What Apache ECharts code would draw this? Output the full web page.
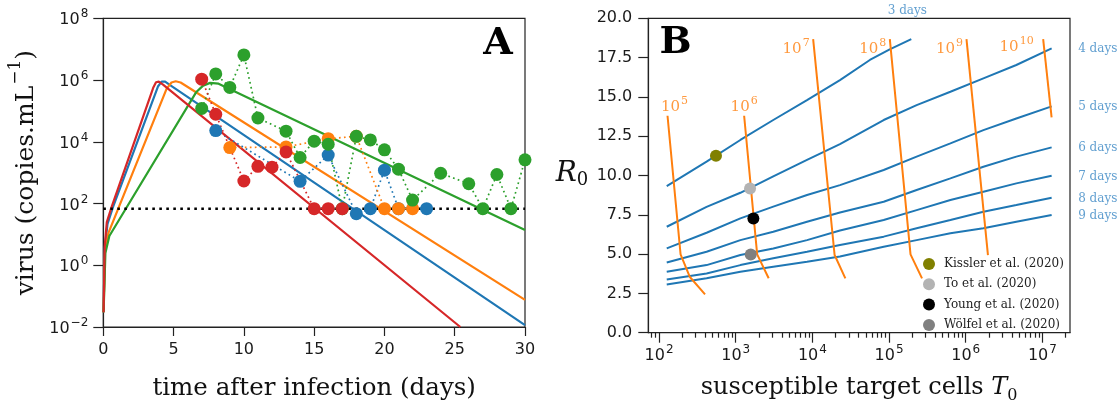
<!DOCTYPE html>
<html>
<head>
<meta charset="utf-8">
<script src="https://cdn.jsdelivr.net/npm/echarts@6.0.0/dist/echarts.min.js"></script>
<style>
html,body{margin:0;padding:0;background:#fff;}
#chart{width:1119px;height:409px;}
</style>
</head>
<body>
<div id="chart"></div>
<script>
// ================= Panel A : viral load =================
const detectionLimit = 68;
const blueDays   = [8,14,16,18,19,20,21,23];
const blueLoad   = [2.3e4,525,3.7e3,47,68,1.2e3,68,68];
const orangeDays = [9,13,16,18,20,21,22];
const orangeLoad = [6.5e3,6.8e3,1.26e4,1.5e4,68,68,68];
const greenDays  = [7,8,9,10,11,13,14,15,16,17,18,19,20,21,22,24,26,27,28,29,30];
const greenLoad  = [1.2e5,1.58e6,5.75e5,6.5e6,5.9e4,2.2e4,3.1e3,1.05e4,8.3e3,68,1.5e4,1.15e4,5.5e3,1.3e3,129,955,437,68,870,68,2.6e3];
const redDays    = [7,8,10,11,12,13,15,16,17];
const redLoad    = [1.07e6,7.8e4,537,1.6e3,1.5e3,4.7e3,68,68,68];

// model fits
const fitBlueDays   = [0.02,0.1,0.3,0.7,3.9,4.15,4.4,4.7,30];
const fitBlueLoad   = [0.03,3.5,22,79,6.3e5,8.9e5,8.9e5,7.1e5,0.0115];
const fitOrangeDays = [0.02,0.12,0.36,4.5,4.85,5.15,5.5,30];
const fitOrangeLoad = [0.03,3,11,5.2e5,8.3e5,9.1e5,8.3e5,0.076];
const fitGreenDays  = [0.02,0.15,0.43,6.6,7.1,7.6,8.2,30];
const fitGreenLoad  = [0.03,2.5,8.9,4e5,6.6e5,8.1e5,7.6e5,13.8];
const fitRedDays    = [0.02,0.1,0.25,0.6,3.55,3.75,3.95,4.25,25.4];
const fitRedLoad    = [0.03,4,25,79,5.6e5,8.5e5,8.9e5,7.1e5,0.01];
const aYTickExps = [-2,0,2,4,6,8];

// ================= Panel B : R0 vs T0 =================
const contourT0 = [126,417,1150,3090,8510,22900,85100,229000,631000,1.7e6,4.57e6,1.32e7];
const r0Day4 = [6.74,8.0,8.9,9.95,11.0,12.0,13.53,14.48,15.33,16.18,17.03,18.09];
const r0Day5 = [5.36,6.36,7.27,8.02,8.76,9.39,10.35,11.2,12.04,12.89,13.63,14.4];
const r0Day6 = [4.47,5.15,5.89,6.42,7.06,7.65,8.33,9.08,9.82,10.56,11.2,11.79];
const r0Day7 = [3.88,4.3,4.94,5.36,5.89,6.5,7.17,7.8,8.44,8.97,9.5,9.99];
const r0Day8 = [3.39,3.77,4.3,4.73,5.15,5.58,6.11,6.64,7.17,7.7,8.12,8.59];
const r0Day9 = [3.07,3.46,3.88,4.2,4.52,4.85,5.47,5.89,6.32,6.64,7.06,7.49];
const day3T0 = [126,417,1150,3090,8510,22900,56200,102000,195000];
const r0Day3 = [9.33,10.88,12.26,13.53,14.80,16.07,17.35,18.02,18.68];
const dayLabels = ['3 days','4 days','5 days','6 days','7 days','8 days','9 days'];

// peak viral load contours
const vl5T0  = [129,191,251,398];      const vl5R0  = [13.8,4.98,3.56,2.44];
const vl6T0  = [1288,1905,2692];       const vl6R0  = [13.8,4.98,3.46];
const vl7T0  = [10233,19498,26915];    const vl7R0  = [18.68,4.94,3.46];
const vl8T0  = [102329,190546,269153]; const vl8R0  = [18.68,4.98,3.46];
const vl9T0  = [1.023e6,1.95e6];       const vl9R0  = [18.68,4.94];
const vl10T0 = [1.023e7,1.318e7];      const vl10R0 = [18.68,13.70];
const vlExponents = [5,6,7,8,9,10];

// study estimates
const studyNames  = ['Kissler et al. (2020)','To et al. (2020)','Young et al. (2020)','Wölfel et al. (2020)'];
const studyT0     = [553,1538,1700,1570];
const studyR0     = [11.26,9.18,7.27,4.98];
const studyColors = ['#808000','#b3b3b3','#000000','#808080'];

// tick labels
const bXTickExps = [2,3,4,5,6,7];

// ================= build =================
const L = Math.log10;
const ink = '#1a1a1a';
const sans = 'DejaVu Sans', serif = 'DejaVu Serif';
const cBlue = '#1f77b4', cOrange = '#ff7f0e', cGreen = '#2ca02c', cRed = '#d62728';
const dayColor = '#3a87c4';

function supRich(fs, sfs, fam, color, pad) {
  return {
    b: {fontFamily: fam, fontSize: fs, color: color, lineHeight: Math.round(fs*1.25), padding: [pad,0,0,0], verticalAlign: 'bottom'},
    s: {fontFamily: fam, fontSize: sfs, color: color, lineHeight: sfs, verticalAlign: 'top', padding: [0,0,0,1]}
  };
}
const expStr = e => (e < 0 ? '\u2212' + Math.abs(e) : String(e));
const pow10 = e => '{b|10}{s|' + expStr(e) + '}';
const zipLogY = (xs, ys) => xs.map((x, i) => [x, L(ys[i])]);
const zipLog = (ts, rs) => ts.map((t, i) => [L(t), rs[i]]);

const minorTicks = [];
for (let n = 1; n <= 7; n++) for (let k = 2; k <= 9; k++) {
  const v = L(k * Math.pow(10, n));
  if (v > 1.86 && v < 7.36) minorTicks.push(v);
}

const series = [];
// --- A: model fits
[[fitBlueDays,fitBlueLoad,cBlue],[fitOrangeDays,fitOrangeLoad,cOrange],[fitGreenDays,fitGreenLoad,cGreen],[fitRedDays,fitRedLoad,cRed]].forEach(([d,v,c]) => {
  series.push({type:'line', xAxisIndex:0, yAxisIndex:0, data: zipLogY(d,v), symbol:'none', showSymbol:false,
    lineStyle:{color:c, width:2.2}, z:2, silent:true});
});
// --- A: detection limit
series.push({type:'line', xAxisIndex:0, yAxisIndex:0, data: [[0,L(detectionLimit)],[30,L(detectionLimit)]], symbol:'none',
  lineStyle:{color:'#000', width:2.6, type:[2.6,4.4]}, z:3, silent:true});
// --- A: observations
[[blueDays,blueLoad,cBlue],[orangeDays,orangeLoad,cOrange],[greenDays,greenLoad,cGreen],[redDays,redLoad,cRed]].forEach(([d,v,c]) => {
  series.push({type:'line', xAxisIndex:0, yAxisIndex:0, data: zipLogY(d,v), symbol:'circle', symbolSize:13, showSymbol:true,
    itemStyle:{color:c, opacity:1}, lineStyle:{color:c, width:1.7, type:[1.7,3.3]}, z:4, silent:true, clip:false});
});

// --- B: duration contours
const dayLines = [zipLog(day3T0,r0Day3), zipLog(contourT0,r0Day4), zipLog(contourT0,r0Day5), zipLog(contourT0,r0Day6),
                  zipLog(contourT0,r0Day7), zipLog(contourT0,r0Day8), zipLog(contourT0,r0Day9)];
dayLines.forEach(d => series.push({type:'line', xAxisIndex:1, yAxisIndex:1, data:d, symbol:'none', showSymbol:false,
  lineStyle:{color:cBlue, width:2}, z:2, silent:true}));
series.push({type:'scatter', xAxisIndex:1, yAxisIndex:1, symbolSize:1, itemStyle:{color:'rgba(0,0,0,0)'}, z:6, silent:true, clip:false,
  data: dayLines.map((d, i) => ({value: d[d.length-1],
    label: i === 0 ? {show:true, formatter: dayLabels[i], position:'top', distance:22, offset:[-4,0], fontFamily:serif, fontSize:12, color:dayColor}
                   : {show:true, formatter: dayLabels[i], position:'right', distance:26, offset:[0,1], fontFamily:serif, fontSize:12, color:dayColor}}))});

// --- B: viral load contours
const vlLines = [zipLog(vl5T0,vl5R0), zipLog(vl6T0,vl6R0), zipLog(vl7T0,vl7R0), zipLog(vl8T0,vl8R0), zipLog(vl9T0,vl9R0), zipLog(vl10T0,vl10R0)];
vlLines.forEach(d => series.push({type:'line', xAxisIndex:1, yAxisIndex:1, data:d, symbol:'none', showSymbol:false,
  lineStyle:{color:cOrange, width:2}, z:3, silent:true}));
const vlLabelPos = [
  {position:'top', distance:1, offset:[7,0]},
  {position:'top', distance:1, offset:[0,0]},
  {position:'left', distance:3, offset:[0,8]},
  {position:'left', distance:3, offset:[0,8]},
  {position:'left', distance:3, offset:[0,8]},
  {position:'left', distance:9, offset:[0,6]}
];
series.push({type:'scatter', xAxisIndex:1, yAxisIndex:1, symbolSize:1, itemStyle:{color:'rgba(0,0,0,0)'}, z:6, silent:true, clip:false,
  data: vlLines.map((d, i) => ({value: d[0],
    label: Object.assign({show:true, formatter: pow10(vlExponents[i]), rich: supRich(15, 11, serif, cOrange, 3)}, vlLabelPos[i])}))});

// --- B: studies
studyNames.forEach((nm, i) => series.push({type:'scatter', name: nm, xAxisIndex:1, yAxisIndex:1,
  data: [[L(studyT0[i]), studyR0[i]]], symbol:'circle', symbolSize:12, itemStyle:{color: studyColors[i], opacity:1}, z:7, silent:true}));

const tickRich = supRich(16, 12, sans, ink, 3);
const gridBox = {show:true, borderColor:'#222', borderWidth:1.2, backgroundColor:'#fff'};
const axisLineSty = {show:true, onZero:false, lineStyle:{color:'#222', width:1.2}};
const tickSty = len => ({show:true, length:len, lineStyle:{color:'#222', width:1.2}});

const option = {
  animation: false,
  backgroundColor: '#fff',
  grid: [
    Object.assign({left:103.3, top:18.3, width:421.7, height:314.4}, gridBox),
    Object.assign({left:648.3, top:18.3, width:421.7, height:314.4}, gridBox)
  ],
  legend: {
    data: studyNames, orient:'vertical', left:923, top:257, itemWidth:12, itemHeight:12, itemGap:6.3, icon:'circle', padding:0,
    selectedMode:false,
    textStyle:{fontFamily:serif, fontSize:12, color:'#222', lineHeight:14, padding:[0,0,0,4]}
  },
  xAxis: [
    {gridIndex:0, type:'value', min:0, max:30, interval:5,
     axisLine:axisLineSty, axisTick:tickSty(9), splitLine:{show:false},
     axisLabel:{fontFamily:sans, fontSize:16, color:ink, margin:15},
     name:'time after infection (days)', nameLocation:'middle', nameGap:47,
     nameTextStyle:{fontFamily:serif, fontSize:24.5, color:'#111', lineHeight:30}},
    {gridIndex:1, type:'value', min:1.86, max:7.36, position:'bottom',
     axisLine:axisLineSty, splitLine:{show:false},
     axisTick:Object.assign(tickSty(10), {customValues: bXTickExps}),
     axisLabel:{customValues: bXTickExps, formatter: v => pow10(Math.round(v)), rich: tickRich, margin:11},
     name:'{t|susceptible target cells }{i|T}{sub|0}', nameLocation:'middle', nameGap:43,
     nameTextStyle:{rich:{
       t:{fontFamily:serif, fontSize:24, color:'#111', lineHeight:30, verticalAlign:'top'},
       i:{fontFamily:serif, fontSize:24, fontStyle:'italic', color:'#111', lineHeight:30, verticalAlign:'top'},
       sub:{fontFamily:serif, fontSize:16, color:'#111', lineHeight:16, padding:[12,0,0,0], verticalAlign:'top'}}}},
    {gridIndex:1, type:'value', min:1.86, max:7.36, position:'bottom',
     axisLine:{show:false, onZero:false}, splitLine:{show:false}, axisLabel:{show:false},
     axisTick:Object.assign(tickSty(5), {customValues: minorTicks})}
  ],
  yAxis: [
    {gridIndex:0, type:'value', min:-2, max:8, interval:2,
     axisLine:axisLineSty, axisTick:tickSty(10), splitLine:{show:false},
     axisLabel:{formatter: v => pow10(Math.round(v)), rich: tickRich, margin:15},
     name:'{b|virus (copies.mL}{s|\u22121}{b|)}', nameLocation:'middle', nameGap:64,
     nameTextStyle:{rich:{
       b:{fontFamily:serif, fontSize:25, color:'#111', lineHeight:32, padding:[6,0,0,0], verticalAlign:'bottom'},
       s:{fontFamily:serif, fontSize:17, color:'#111', lineHeight:17, verticalAlign:'top', padding:[0,0,0,1]}}}},
    {gridIndex:1, type:'value', min:0, max:20, interval:2.5,
     axisLine:axisLineSty, axisTick:tickSty(10), splitLine:{show:false},
     axisLabel:{fontFamily:sans, fontSize:16, color:ink, margin:16, formatter: v => v.toFixed(1)},
     name:'{i|R}{sub|0}', nameLocation:'middle', nameGap:60, nameRotate:0,
     nameTextStyle:{rich:{
       i:{fontFamily:serif, fontSize:28, fontStyle:'italic', color:'#111', lineHeight:32, verticalAlign:'top'},
       sub:{fontFamily:serif, fontSize:18, color:'#111', lineHeight:18, padding:[12,0,0,0], verticalAlign:'top'}}}}
  ],
  graphic: [
    {type:'text', z:100, style:{text:'A', x:498, y:44, align:'center', verticalAlign:'middle', font:'bold 38px "DejaVu Serif"', fill:'#000'}},
    {type:'text', z:100, style:{text:'B', x:675.5, y:43, align:'center', verticalAlign:'middle', font:'bold 38px "DejaVu Serif"', fill:'#000'}}
  ],
  series: series
};

const chart = echarts.init(document.getElementById('chart'), null, {renderer:'canvas'});
chart.setOption(option);
</script>
</body>
</html>
